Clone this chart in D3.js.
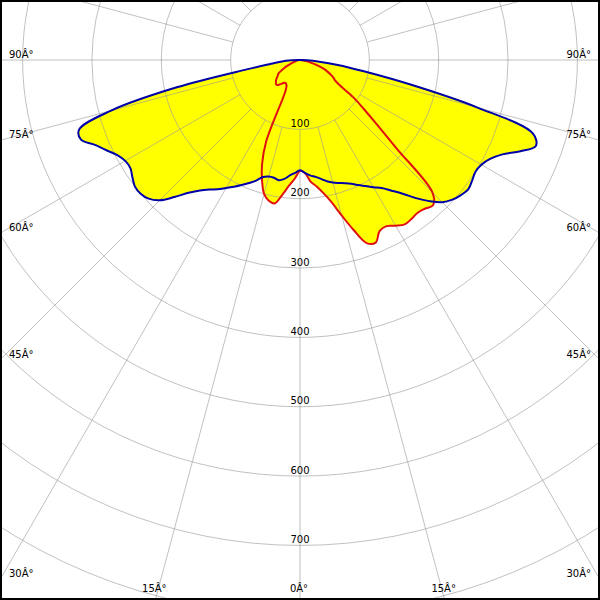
<!DOCTYPE html>
<html><head><meta charset="utf-8">
<script src="https://cdn.jsdelivr.net/npm/d3@7"></script>
<style>
body{margin:0;background:#fff}
svg{display:block}
text{font-family:"DejaVu Sans",sans-serif;font-size:10px;fill:#000}
</style>
</head><body>
<svg id="c" width="600" height="600"></svg>
<script>
// gamma angles (0 = straight down, 90 = horizontal)
const gammaAngles = [0,2.5,5,7.5,10,12.5,15,17.5,20,22.5,25,27.5,30,32.5,35,37.5,40,42.5,45,47.5,50,52.5,55,57.5,60,62.5,65,67.5,70,72.5,75,77.5,80,82.5,85,87.5,90];
// blue plane, right half
const c0   = [159,163,167,170,174,179,183,186,189,193,199,205,212,219,230,243,260,276,290,298,303,306,303,300,302,309,322,344,362,352,265,162,92,55,28,10,0];
// blue plane, left half
const c180 = [159,163,167,173,176,174,174,177,185,192,199,206,213,221,228,237,250,268,286,296,300,300,295,290,291,297,308,320,336,334,282,182,78,42,28,12,0];
// red plane, right half
const c90  = [160,163,176,184,195,210,232,257,281,285,272,270,276,281,280,278,280,284,270,190,145,116,94,68,58,54,48,42,36,28,20,14,9,6,3,1,0];
// red plane, left half
const c270 = [160,171,182,196,210,208,200,182,160,128,50,42,40,39,40,43,46,49,49,47,45,42,39,37,32,26,21,15,11,9,7,5,4,3,2,1,0];

const radialTicks = [100,200,300,400,500,600,700,800,900];
const radialTickLabels = ["100","200","300","400","500","600","700"];
const angleTicks = [0,15,30,45,60,75,90];
const spokeAngles = [0,15,30,45,60,75,90,105,120,135,150,165,180,195,210,225,240,255,270,285,300,315,330,345];

const W = 600, H = 600, cx = 300, cy = 60;
const r = d3.scaleLinear().domain([0,100]).range([0,69.35]);
const rad = d => d*Math.PI/180;

const svg = d3.select("#c");
svg.append("rect").attr("width",W).attr("height",H).attr("fill","#fff");
const g = svg.append("g").attr("transform",`translate(${cx},${cy})`);

function outline(left,right){
  const pts=[];
  for(let i=gammaAngles.length-1;i>=0;i--) pts.push({a:Math.PI+rad(gammaAngles[i]), v:left[i]});
  for(let i=1;i<gammaAngles.length-1;i++) pts.push({a:Math.PI-rad(gammaAngles[i]), v:right[i]});
  return pts;
}
const line = d3.lineRadial().angle(d=>d.a).radius(d=>r(d.v)).curve(d3.curveCatmullRomClosed.alpha(0.5));
const blue = outline(c180,c0);
const red  = outline(c270,c90);

// fills
g.append("path").attr("d",line(blue)).attr("fill","#ffff00");
g.append("path").attr("d",line(red)).attr("fill","#ffff00");

// grid
const grid = g.append("g").attr("fill","none").attr("stroke","#989898").attr("stroke-opacity",0.6).attr("stroke-width",1);
radialTicks.forEach(t=>{
  grid.append("circle").attr("r",r(t));
});
spokeAngles.forEach(a=>{
  const s=Math.sin(rad(a)), c=Math.cos(rad(a));
  grid.append("line")
    .attr("x1",s*r(100)).attr("y1",c*r(100))
    .attr("x2",s*r(1000)).attr("y2",c*r(1000));
});

// radial labels
radialTickLabels.forEach(t=>{
  svg.append("text").attr("x",cx).attr("y",cy+r(+t)-2.5).attr("text-anchor","middle").text(t);
});

// angle labels
angleTicks.forEach(a=>{
  const sides = a===0 ? [1] : [-1,1];
  sides.forEach(side=>{
    const dx = side*Math.sin(rad(a)), dy = Math.cos(rad(a));
    const tx = Math.abs(dx)>1e-9 ? (side>0 ? (W-cx) : cx)/Math.abs(dx) : Infinity;
    const ty = dy>1e-9 ? (H-cy)/dy : Infinity;
    const t = Math.min(tx,ty);
    const ex = cx+dx*t, ey = cy+dy*t;
    const label = a + "\u00C2\u00B0";
    if(tx<ty){
      svg.append("text").attr("x", side<0 ? 9 : 591).attr("y", ey-2.5)
        .attr("text-anchor", side<0 ? "start" : "end").text(label);
    } else {
      svg.append("text").attr("x", ex-1).attr("y", 592)
        .attr("text-anchor","middle").text(label);
    }
  });
});

// strokes
g.append("path").attr("d",line(red)).attr("fill","none").attr("stroke","#e01010").attr("stroke-width",2).attr("stroke-linejoin","round");
g.append("path").attr("d",line(blue)).attr("fill","none").attr("stroke","#0000a8").attr("stroke-width",2).attr("stroke-linejoin","round");

// frame
svg.append("rect").attr("x",1).attr("y",1).attr("width",W-2).attr("height",H-2)
  .attr("fill","none").attr("stroke","#000").attr("stroke-width",2);
</script>
</body></html>
